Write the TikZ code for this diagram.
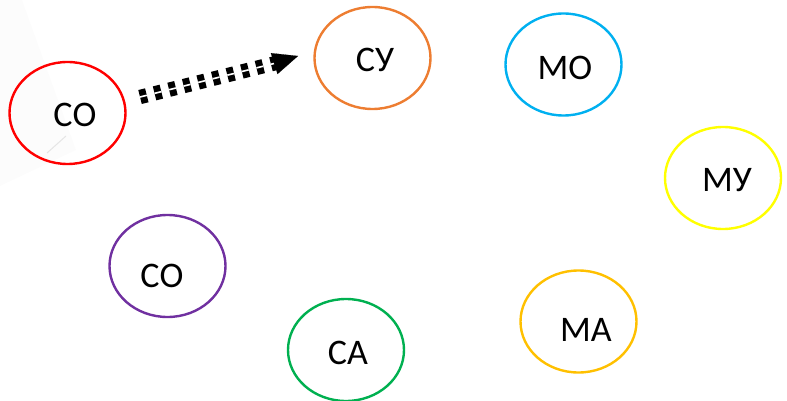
\documentclass[tikz,border=0pt]{standalone}
\usepackage{fontspec}
\setmainfont{Carlito}
\usetikzlibrary{arrows.meta,shapes.geometric}
\definecolor{cRed}{HTML}{FF0000}
\definecolor{cOrange}{HTML}{ED7D31}
\definecolor{cBlue}{HTML}{00B0F0}
\definecolor{cYellow}{HTML}{FFFF00}
\definecolor{cPurple}{HTML}{7030A0}
\definecolor{cGreen}{HTML}{00B050}
\definecolor{cGold}{HTML}{FFC000}
\begin{document}
\begin{tikzpicture}[x=1pt,y=-1pt,
  oval/.style={draw=#1,line width=2.4pt,ellipse,minimum width=116pt,minimum height=102pt,inner sep=0pt},
  lbl/.style={font=\fontsize{36}{36}\selectfont,text=black,inner sep=0pt},
  dbl/.style={double,double distance=1.6pt,line width=6.4pt,dash pattern=on 7pt off 8pt,draw=black}]
\useasboundingbox (0,0) rectangle (787,401);
% faint background wedge
\fill[black!1.2] (0,0) -- (22,0) -- (76,150) -- (0,186) -- cycle;
\draw[black!10,line width=1pt] (47,153) -- (66,136);
% ellipses
\node[oval=cRed] (r) at (67.5,113) {};
\node[oval=cOrange] (o) at (372.5,58) {};
\node[oval=cBlue] (b) at (563.5,64.5) {};
\node[oval=cYellow] (y) at (723,178) {};
\node[oval=cPurple] (p) at (167.5,266) {};
\node[oval=cGreen] (g) at (346,350) {};
\node[oval=cGold] (m) at (578.5,321.5) {};
% labels
\node[lbl] (lr) at (75,115) {СО};
\node[lbl] (lo) at (375,60) {СУ};
\node[lbl] (lb) at (565,68) {МО};
\node[lbl] (ly) at (727,180) {МУ};
\node[lbl] (lp) at (162,276) {СО};
\node[lbl] (lg) at (348,353) {СА};
\node[lbl] (lm) at (586,330) {МА};
% arrow
\coordinate (s) at (140,97);
\coordinate (e) at (276,63);
\coordinate (t) at (298,56);
\draw[dbl] (s) -- (e);
\draw[line width=0.1pt,-{Triangle[length=25pt,width=22pt]}] (e) -- (t);
\end{tikzpicture}
\end{document}
